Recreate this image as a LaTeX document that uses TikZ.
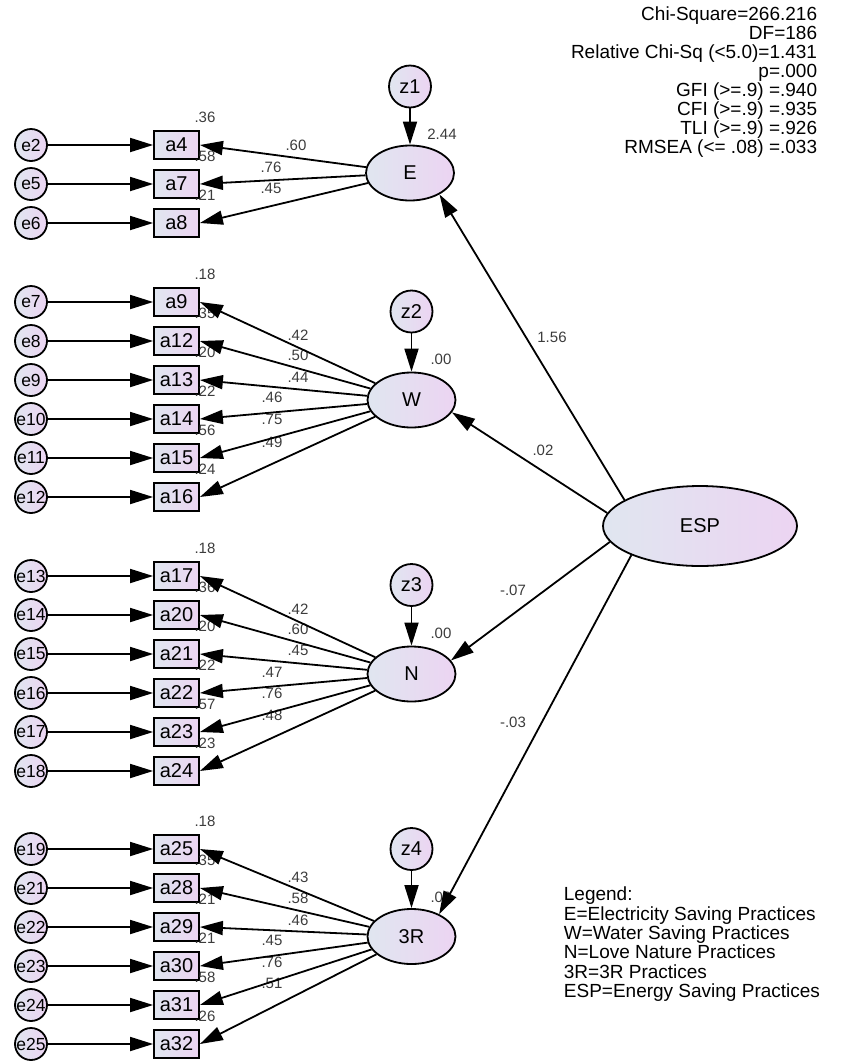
\documentclass[tikz,border=0pt]{standalone}
\usepackage{fontspec}
\setmainfont{Liberation Sans}
\usetikzlibrary{arrows.meta, positioning, shapes}
\definecolor{amosblue}{RGB}{224,230,240}
\definecolor{amospink}{RGB}{236,212,242}
\definecolor{estgray}{RGB}{60,60,60}

\tikzset{
  errc/.style={circle, draw, left color=amosblue, right color=amospink, minimum size=32pt, inner sep=0pt, font=\fontsize{17.5}{17.5}\selectfont},
  zcirc/.style={circle, draw, left color=amosblue, right color=amospink, minimum size=42pt, inner sep=0pt, font=\fontsize{20}{20}\selectfont},
  obsbox/.style={rectangle, draw, left color=amosblue, right color=amospink, minimum width=45pt, minimum height=28pt, inner sep=0pt, font=\fontsize{20}{20}\selectfont},
  latent/.style={ellipse, draw, left color=amosblue, right color=amospink, minimum width=88pt, minimum height=55pt, inner sep=0pt, font=\fontsize{20}{20}\selectfont},
  est/.style={inner sep=0pt, text=estgray, font=\fontsize{15}{15}\selectfont},
}

% indicator / error / factor / y / R^2 / loading / label x / label y
\newcommand{\indlist}{a4/e2/E/145/.36/.60/296/145, a7/e5/E/184/.58/.76/271/167, a8/e6/E/223/.21/.45/271/188,
  a9/e7/W/302/.18/.42/298/335, a12/e8/W/341/.35/.50/298/355, a13/e9/W/380/.20/.44/298/377,
  a14/e10/W/419/.22/.46/272/397, a15/e11/W/458/.56/.75/272/419, a16/e12/W/497/.24/.49/272/442,
  a17/e13/N/576/.18/.42/298/609, a20/e14/N/615/.36/.60/298/629, a21/e15/N/654/.20/.45/298/650,
  a22/e16/N/693/.22/.47/272/672, a23/e17/N/732/.57/.76/272/693, a24/e18/N/771/.23/.48/272/715,
  a25/e19/R3/849/.18/.43/298/877, a28/e21/R3/888/.35/.58/298/898, a29/e22/R3/927/.21/.46/298/920,
  a30/e23/R3/966/.21/.45/272/940, a31/e24/R3/1005/.58/.76/272/962, a32/e25/R3/1044/.26/.51/272/983}

\begin{document}
\begin{tikzpicture}[x=1pt, y=-1pt, line width=1.8pt, >={Triangle[length=23pt,width=14pt]}]
  \useasboundingbox (0,0) rectangle (842,1061);
  % factors
  \node[latent] (E) at (410,173){E};
  \node[latent] (W) at (411.5,400){W};
  \node[latent] (N) at (411.5,674){N};
  \node[latent] (R3) at (411.5,936.5){3R};
  \node[latent, minimum width=194pt, minimum height=80pt] (ESP) at (700,526){ESP};
  \node[zcirc] (z1) at (410,86.5){z1};
  \node[zcirc] (z2) at (411.5,311.5){z2};
  \node[zcirc] (z3) at (411.5,585){z3};
  \node[zcirc] (z4) at (411.5,849){z4};
  \node[est] at (442,134){2.44};
  \node[est] at (441,359){.00};
  \node[est] at (441,633){.00};
  \node[est] at (441,897){.00};
  \node[est] at (552,337){1.56};
  \node[est] at (543,450){.02};
  \node[est] at (513,590){-.07};
  \node[est] at (513,722){-.03};
  \foreach \a/\e/\f/\y/\r/\l/\lx/\ly in \indlist {
    \node[obsbox] (\a) at (176.5,\y){\a};
    \node[errc] (\e) at (31,\y){\e};
    \node[est] at (205,\y-28){\r};
    \node[est] at (\lx,\ly){\l};
  }
  \foreach \a/\e/\f/\y/\r/\l/\lx/\ly in \indlist {
    \draw[->] (\e) -- (\a);
    \draw[->] (\f) -- (\a.east);
  }
  \foreach \z/\f in {z1/E, z2/W, z3/N, z4/R3}
    \draw[->] (\z) -- (\f);
  \draw[->] (ESP.161) -- (E.324);
  \draw[->] (ESP.172) -- (W.-17);
  \draw[->] (ESP.190) -- (N.19);
  \draw[->] (ESP.203) -- (R3.39);
  % fit indices and legend
  \node[anchor=north east, align=right, inner sep=0pt, font=\fontsize{19}{19}\selectfont] (fit) at (818,6)
    {Chi-Square=266.216\\DF=186\\Relative Chi-Sq (<5.0)=1.431\\p=.000\\GFI (>=.9) =.940\\CFI (>=.9) =.935\\TLI (>=.9) =.926\\RMSEA (<= .08) =.033};
  \node[anchor=north west, align=left, inner sep=0pt, font=\fontsize{19}{19.4}\selectfont] (legend) at (563,886)
    {Legend:\\E=Electricity Saving Practices\\W=Water Saving Practices\\N=Love Nature Practices\\3R=3R Practices\\ESP=Energy Saving Practices};
\end{tikzpicture}
\end{document}
